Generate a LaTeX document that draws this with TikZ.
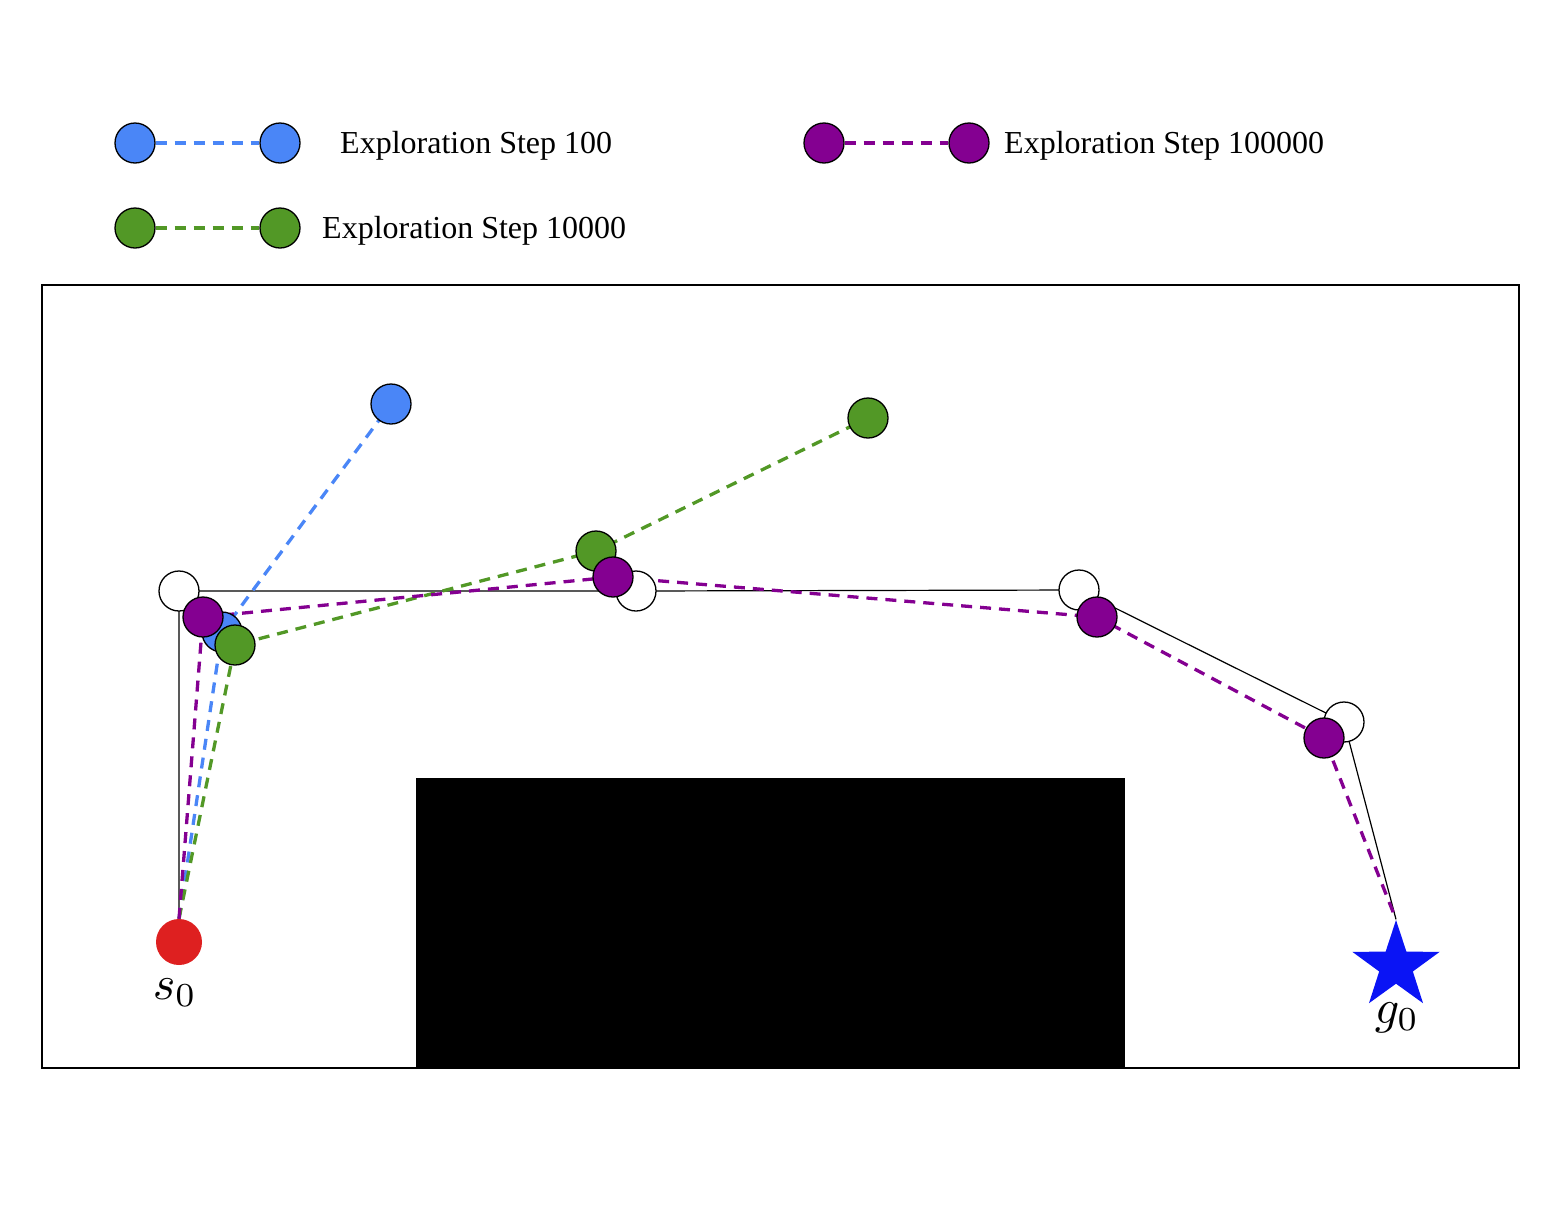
\documentclass[tikz,border=0pt]{standalone}
\usepackage{fontspec}
\setmainfont{Liberation Serif}
\usetikzlibrary{shapes.geometric}
\definecolor{cblue}{RGB}{74,134,247}
\definecolor{cgreen}{RGB}{82,152,38}
\definecolor{cpurple}{RGB}{132,0,145}
\definecolor{cred}{RGB}{222,32,32}
\definecolor{cstar}{RGB}{10,20,245}
\tikzset{
  dot/.style={circle,draw=black,line width=1.3pt,minimum size=40pt,inner sep=0pt},
  wdot/.style={dot,fill=white},
  bdot/.style={dot,fill=cblue},
  gdot/.style={dot,fill=cgreen},
  pdot/.style={dot,fill=cpurple},
  dline/.style={line width=3.3pt,dash pattern=on 11pt off 8pt},
  legtext/.style={anchor=west,inner sep=0pt,font=\fontsize{32}{38}\selectfont},
  route/.style={line width=1.2pt,draw=black},
  mlabel/.style={scale=4.8,inner sep=0pt},
}
\begin{document}
\begin{tikzpicture}[x=1pt,y=-1pt]
\useasboundingbox (0,0) rectangle (1562,1210);
% frame and obstacle
\draw[line width=1.2pt] (42,285) rectangle (1519,1068);
\fill[black] (416,778) rectangle (1125,1068);

% legend
\node[bdot] (lb1) at (135,143) {};
\node[bdot] (lb2) at (280,143) {};
\draw[dline,cblue] (lb1) -- (lb2);
\node[legtext] (tb) at (340,146) {Exploration Step 100};
\node[gdot] (lg1) at (135,228) {};
\node[gdot] (lg2) at (280,228) {};
\draw[dline,cgreen] (lg1) -- (lg2);
\node[legtext] (tg) at (322,231) {Exploration Step 10000};
\node[pdot] (lp1) at (824,143) {};
\node[pdot] (lp2) at (969,143) {};
\draw[dline,cpurple] (lp1) -- (lp2);
\node[legtext] (tp) at (1004,146) {Exploration Step 100000};

% start and goal
\node[circle,fill=cred,minimum size=46pt,inner sep=0pt] (s0) at (179,942) {};
\node[mlabel] (s0l) at (175,993) {$s_0$};
\node[star,star points=5,star point ratio=2.6,fill=cstar,minimum size=92pt,inner sep=0pt] (g0) at (1396,966) {};
\node[mlabel] (g0l) at (1397,1018) {$g_0$};

% reference route
\coordinate (w1) at (179,591);
\coordinate (w2) at (636,591);
\coordinate (w3) at (1079,590);
\coordinate (w4) at (1344,722);
\draw[route] (s0.north) -- (w1) -- (w2) -- (w3) -- (w4) -- (g0.north);

% exploration paths coordinates
\coordinate (b1) at (222,632);
\coordinate (b2) at (391,404);
\coordinate (gA) at (235,645);
\coordinate (gB) at (596,551);
\coordinate (gC) at (868,418);
\coordinate (p1) at (203,617);
\coordinate (p2) at (613,577);
\coordinate (p3) at (1097,617);
\coordinate (p4) at (1324,738);

\draw[dline,cblue] (s0.north) -- (b1) -- (b2);
\draw[dline,cgreen] (s0.north) -- (gA) -- (gB) -- (gC);
\draw[dline,cpurple] (s0.north) -- (p1) -- (p2) -- (p3) -- (p4) -- (g0.north);

% white waypoints
\node[wdot] (nw1) at (w1) {};
\node[wdot] (nw2) at (w2) {};
\node[wdot] (nw3) at (w3) {};
\node[wdot] (nw4) at (w4) {};

% explored nodes
\node[bdot] (nb1) at (b1) {};
\node[bdot] (nb2) at (b2) {};
\node[pdot] (np1) at (p1) {};
\node[gdot] (ngA) at (gA) {};
\node[gdot] (ngB) at (gB) {};
\node[gdot] (ngC) at (gC) {};
\node[pdot] (np2) at (p2) {};
\node[pdot] (np3) at (p3) {};
\node[pdot] (np4) at (p4) {};
\end{tikzpicture}
\end{document}
